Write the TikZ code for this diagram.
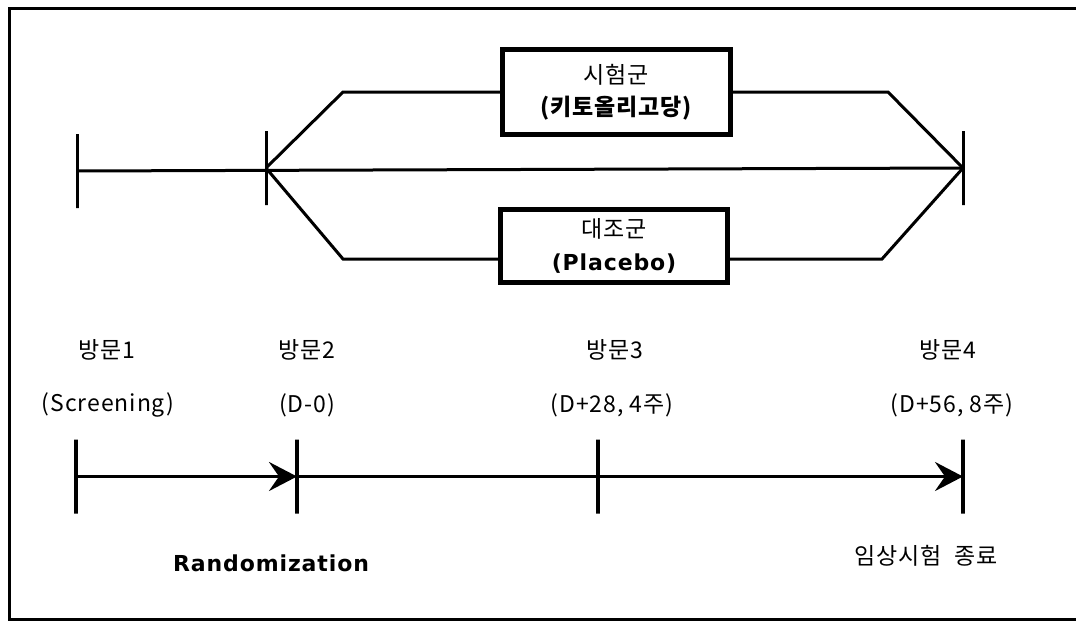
\documentclass[tikz,border=0pt]{standalone}
\usepackage{fontspec}
\setmainfont{Noto Sans CJK KR}[LetterSpace=4]
\newfontfamily\engbold{DejaVu Sans}[LetterSpace=4]
\usetikzlibrary{arrows.meta, positioning, calc}

\begin{document}
\begin{tikzpicture}[x=1pt, y=-1pt,
  >={Stealth[length=28pt, width=29pt, inset=10pt]},
  line/.style={line width=3pt, black},
  arr/.style={->, line width=3.5pt, black},
]

% =============================================
% Styles
% =============================================
\tikzset{
  tickmark/.style={
    draw, line width=#1, inner sep=0pt, outer sep=0pt,
    minimum width=0pt, minimum height=74pt,
  },
  tickmark/.default=3pt,
  armbox/.style 2 args={
    draw, line width=5pt, fill=white, align=center, inner sep=0pt,
    minimum width=#1, minimum height=#2,
    font=\fontsize{23}{27}\selectfont,
  },
  lbl/.style={font=\fontsize{23}{27}\selectfont, inner sep=0pt},
}

\useasboundingbox (0,0) rectangle (1076,621);

% =============================================
% Frame (open on the right)
% =============================================
\draw[line width=3pt] (1085,8.5) -- (9.5,8.5) -- (9.5,619) -- (1085,619);

% =============================================
% Upper part: randomization into two arms
% =============================================
\node[tickmark] (s1) at (77,171) {};
\node[tickmark] (s2) at (266,168) {};
\node[tickmark] (s3) at (963,168) {};

\node[armbox={228pt}{85pt}] (trial) at (616.5,92)
  {시험군\\[5pt]\textbf{(키토올리고당)}};
\node[armbox={227pt}{73pt}] (ctrl) at (614,246)
  {대조군\\[6pt]{\engbold\bfseries\fontsize{22}{26}\selectfont (Placebo)}};

\coordinate (lo) at (343,259);

\draw[line] (s1.center) -- (s3.center);

\draw[line] (s2.center) -- (343,92) -- (trial.west);
\draw[line] (trial.east) -- (888,92) -- (s3.center);

\draw[line] (s2.center) -- (lo) -- (lo -| ctrl.west);
\draw[line] (lo -| ctrl.east) -- (882,259) -- (s3.center);

% =============================================
% Lower part: visit timeline
% =============================================
\node[tickmark=4pt] (v1) at (76,476.5) {};
\node[tickmark=4pt] (v2) at (297,476.5) {};
\node[tickmark=4pt] (v3) at (598,476.5) {};
\node[tickmark=4pt] (v4) at (963,476.5) {};

\draw[arr] (v1.center) -- (v2.center);
\draw[line width=3.5pt] (v2.center) -- (v3.center);
\draw[arr] (v3.center) -- (v4.center);

\node[lbl] (n1) at (107,350) {방문1};
\node[lbl] (d1) at (108,405) {(Screening)};
\node[lbl] (n2) at (307,350) {방문2};
\node[lbl] (d2) at (307,405) {(D-0)};
\node[lbl] (n3) at (615,350) {방문3};
\node[lbl] (d3) at (612,405) {(D+28, 4주)};
\node[lbl] (n4) at (948,350) {방문4};
\node[lbl] (d4) at (952,405) {(D+56, 8주)};

\node[font=\engbold\bfseries\fontsize{22}{26}\selectfont, inner sep=0pt] (rand) at (271,563) {Randomization};
\node[lbl] (fin) at (926,556) {임상시험\ \ 종료};

\end{tikzpicture}
\end{document}
